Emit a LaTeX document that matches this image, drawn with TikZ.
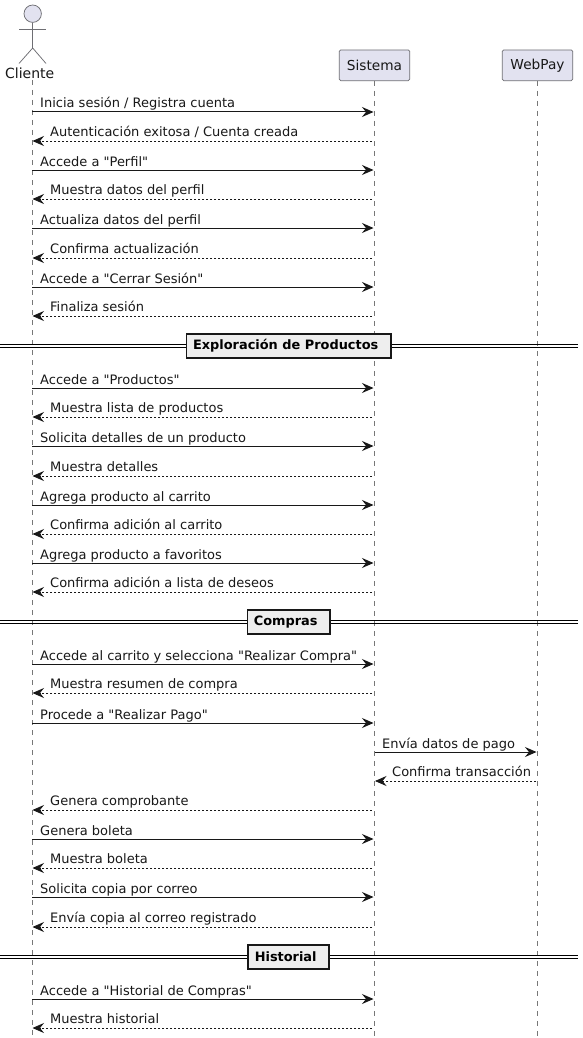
\documentclass[tikz,border=0pt]{standalone}
\usepackage{fontspec}
\setmainfont[Ligatures=TeXOff]{DejaVu Sans}
\usetikzlibrary{arrows.meta}
\definecolor{partfill}{HTML}{E2E2F0}
\definecolor{partline}{HTML}{6E6E73}
\definecolor{lifeline}{HTML}{777777}
\definecolor{divfill}{HTML}{EEEEEE}
\definecolor{ink}{HTML}{181818}
\tikzset{
  x=1pt,y=-1pt,
  head/.style={draw=partline,fill=partfill,rounded corners=1.5pt,line width=0.75pt,minimum width=70.5pt,minimum height=30.7pt,inner sep=0pt,font=\fontsize{13.7}{16}\selectfont,text=ink},
  life/.style={draw=lifeline,line width=0.6pt,dash pattern=on 5pt off 5pt},
  tipx/.style={-{Stealth[length=11.5pt,width=10pt,inset=4pt]}},
  sendmsg/.style={draw=ink,line width=1pt,tipx},
  backmsg/.style={draw=ink,line width=0.8pt,dash pattern=on 2pt off 2pt,tipx},
  lbl/.style={anchor=base west,inner sep=0pt,font=\fontsize{13}{15}\selectfont,text=ink},
  divbox/.style={draw=ink,fill=divfill,line width=1.6pt,inner xsep=6.5pt,inner ysep=0pt,minimum height=24pt,font=\bfseries\fontsize{12.9}{15}\selectfont,text=black},
  divline/.style={draw=black,line width=1.1pt},
}
\begin{document}
\begin{tikzpicture}
\useasboundingbox (0,0) rectangle (583,1038);
\fill[white] (0,0) rectangle (583,1038);
% participants
\node[head] (sis) at (374.5,65.3) {Sistema};
\node[head] (web) at (537.5,65.3) {WebPay};
\node[inner sep=0pt,font=\fontsize{14}{16}\selectfont,text=ink] (cli) at (29.7,73) {Cliente};
\coordinate (cliTop) at (32.5,80);
\coordinate (cliEnd) at (32.5,1038);
\coordinate (sisTop) at (374.3,81);
\coordinate (sisEnd) at (374.3,1038);
\coordinate (webTop) at (537.3,81);
\coordinate (webEnd) at (537.3,1038);
\draw[life] (cliTop) -- (cliEnd);
\draw[life] (sisTop) -- (sisEnd);
\draw[life] (webTop) -- (webEnd);
% actor
\node[circle,draw=partline,fill=partfill,line width=0.75pt,minimum size=17.4pt,inner sep=0pt] (acth) at (32.7,13.7) {};
\coordinate (acthip) at (32.7,48);
\draw[draw=partline,line width=0.75pt] (acth.south) -- (acthip);
\coordinate (actl) at (19,29);\coordinate (actr) at (46,29);
\draw[draw=partline,line width=0.75pt] (actl) -- (actr);
\coordinate (actf1) at (19,63.5);\coordinate (actf2) at (46,63.5);
\draw[draw=partline,line width=0.75pt] (actf1) -- (acthip) -- (actf2);
% messages: y / text
\foreach \y/\t in {
 112/{Inicia sesión / Registra cuenta},
 170/{Accede a "Perfil"},
 228/{Actualiza datos del perfil},
 287/{Accede a "Cerrar Sesión"},
 388/{Accede a "Productos"},
 446/{Solicita detalles de un producto},
 505/{Agrega producto al carrito},
 563/{Agrega producto a favoritos},
 664/{Accede al carrito y selecciona "Realizar Compra"},
 723/{Procede a "Realizar Pago"},
 839/{Genera boleta},
 897/{Solicita copia por correo},
 999/{Accede a "Historial de Compras"}}{
  \coordinate (a) at (32,\y);\coordinate (b) at (373.5,\y);
  \draw[sendmsg] (a) -- (b);
  \node[lbl] at (40,\y-4) {\t};
}
\foreach \y/\t in {
 141/{Autenticación exitosa / Cuenta creada},
 199/{Muestra datos del perfil},
 258/{Confirma actualización},
 316/{Finaliza sesión},
 417/{Muestra lista de productos},
 476/{Muestra detalles},
 534/{Confirma adición al carrito},
 592/{Confirma adición a lista de deseos},
 693/{Muestra resumen de compra},
 810/{Genera comprobante},
 868/{Muestra boleta},
 927/{Envía copia al correo registrado},
 1028/{Muestra historial}}{
  \coordinate (a) at (372,\y);\coordinate (b) at (32.5,\y);
  \draw[backmsg] (a) -- (b);
  \node[lbl] at (50,\y-4.5) {\t};
}
\coordinate (p1) at (375,752);\coordinate (p2) at (536.5,752);
\draw[sendmsg] (p1) -- (p2);
\node[lbl] at (382,748) {Envía datos de pago};
\coordinate (p3) at (536,781);\coordinate (p4) at (375,781);
\draw[backmsg] (p3) -- (p4);
\node[lbl] at (392,776.5) {Confirma transacción};
% dividers
\foreach \y/\t in {346/{Exploración de Productos},622/{Compras},957/{Historial}}{
  \coordinate (dl) at (0,\y);\coordinate (dr) at (578,\y);
  \draw[divline] ([yshift=-1.6pt]dl) -- ([yshift=-1.6pt]dr);
  \draw[divline] ([yshift=1.6pt]dl) -- ([yshift=1.6pt]dr);
  \node[divbox] at (288.7,\y) {\t\kern6pt};
}
\end{tikzpicture}
\end{document}
